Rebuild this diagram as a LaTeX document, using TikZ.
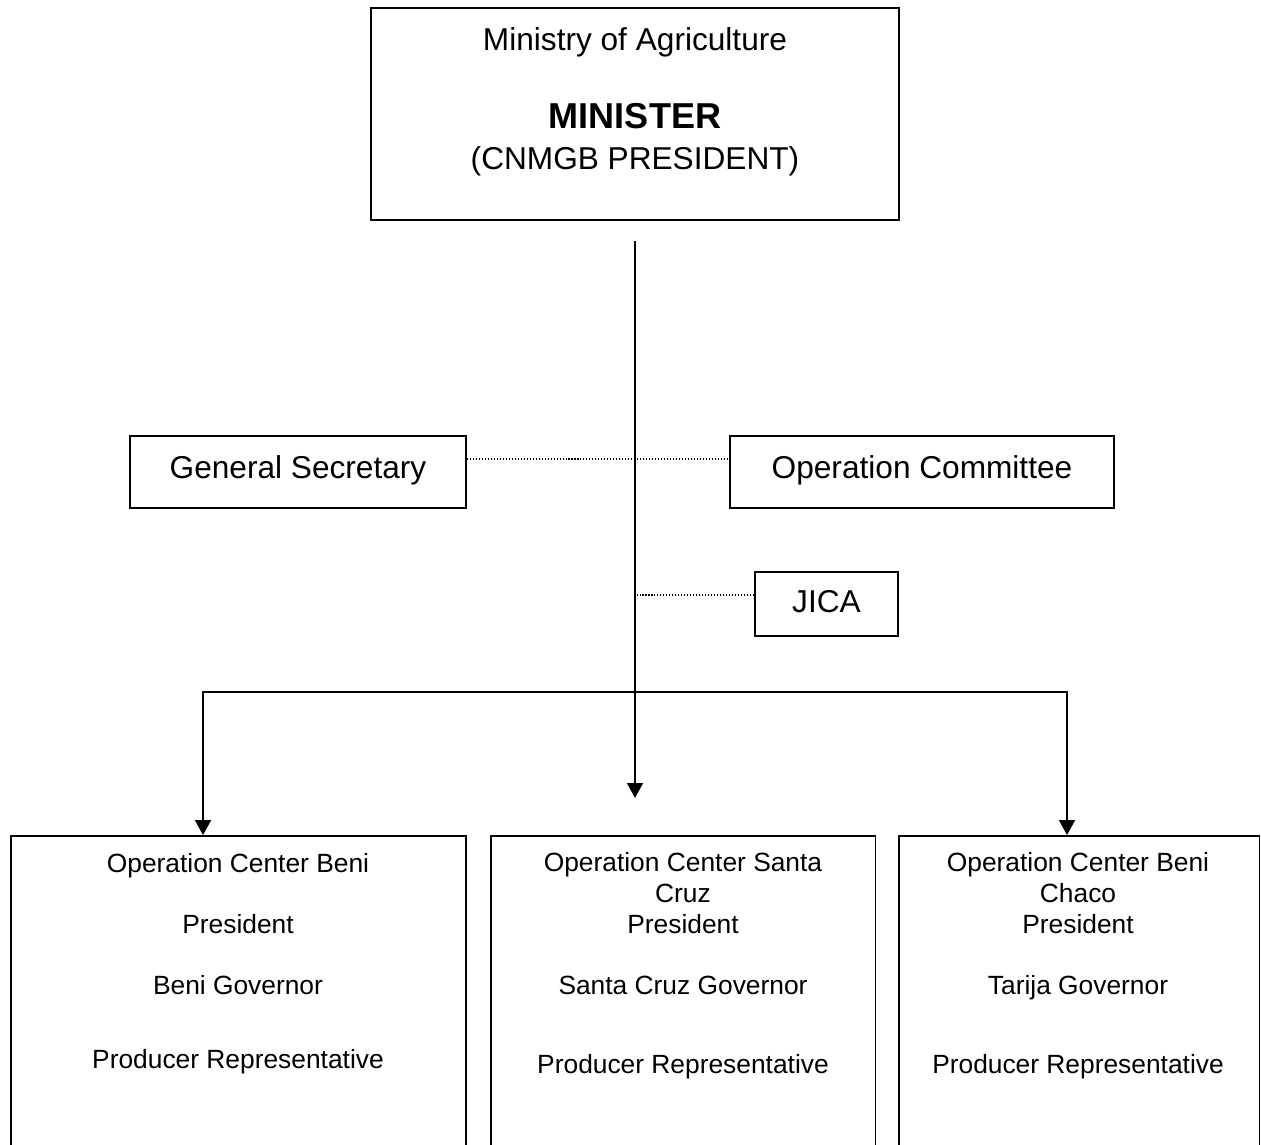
\documentclass[tikz,border=0pt]{standalone}
\usepackage{fontspec}
\setmainfont{Liberation Sans}
\usetikzlibrary{arrows.meta}

\tikzset{
  box/.style={draw,line width=1.1pt,inner sep=0pt},
  onebox/.style={box,text depth=0.33em},
  link/.style={line width=1.1pt},
  dotlink/.style={line width=0.6pt,dash pattern=on 0.6pt off 1.1pt},
  big/.style={font=\fontsize{18}{21}\selectfont},
  small/.style={font=\fontsize{15}{18}\selectfont},
}

\begin{document}
\begin{tikzpicture}[x=0.02cm,y=-0.02cm,>={Triangle[length=8.5pt,width=9pt]}]
  \fill[white] (0,0) rectangle (1261,1144);
  \useasboundingbox (0,0) rectangle (1261,1144);
  \clip (0,0) rectangle (1261,1144);

  % Ministerio
  \node[box,minimum width=10.56cm,minimum height=4.24cm] (minister) at (635,114) {};
  \node[big,anchor=base] (ministry) at (635,50) {Ministry of Agriculture};
  \node[font=\fontsize{20.5}{24}\selectfont\bfseries,anchor=base] (ministertitle) at (635,128) {MINISTER};
  \node[big,anchor=base] (cnmgb) at (635,169) {(CNMGB PRESIDENT)};

  \node[onebox,big,text depth=0.55em,minimum width=6.72cm,minimum height=1.44cm] (gensec) at (298,472) {General Secretary};
  \node[onebox,big,text depth=0.55em,minimum width=7.68cm,minimum height=1.44cm] (opcom) at (922,472) {Operation Committee};
  \node[onebox,big,minimum width=2.86cm,minimum height=1.28cm] (jica) at (826.5,604) {JICA};

  % centros de operacion (cortados abajo)
  \node[box,minimum width=9.1cm,minimum height=6.88cm] (beni) at (238.5,1008) {};
  \node[box,minimum width=7.7cm,minimum height=6.88cm] (santacruz) at (683,1008) {};
  \node[box,minimum width=7.22cm,minimum height=6.88cm] (tarija) at (1079,1008) {};

  \foreach \name/\x/\y/\lab in {
      beniA/238/872.5/Operation Center Beni,
      beniB/238/933.5/President,
      beniC/238/994.5/Beni Governor,
      beniD/238/1068.5/Producer Representative,
      scA/683/871.5/Operation Center Santa,
      scB/683/902.5/Cruz,
      scC/683/933.5/President,
      scD/683/994.5/Santa Cruz Governor,
      scE/683/1073.5/Producer Representative,
      tjA/1078/871.5/Operation Center Beni,
      tjB/1078/902.5/Chaco,
      tjC/1078/933.5/President,
      tjD/1078/994.5/Tarija Governor,
      tjE/1078/1073.5/Producer Representative}{
    \node[small,anchor=base] (\name) at (\x,\y) {\lab};
  }

  % lineas
  \coordinate (stemtop) at (635,241);
  \coordinate (stemend) at (635,798);
  \coordinate (bus) at (635,692);
  \draw[link,->] (stemtop) -- (stemend);
  \draw[link,->] (bus) -| ([xshift=-0.71cm]beni.north);
  \draw[link,->] (bus) -| ([xshift=-0.24cm]tarija.north);

  \draw[dotlink] ([yshift=0.26cm]gensec.east) -- ([yshift=0.26cm]opcom.west);
  \coordinate (jicaend) at ([yshift=0.18cm]jica.west);
  \draw[dotlink] (jicaend) -- (jicaend -| stemtop);
\end{tikzpicture}
\end{document}
